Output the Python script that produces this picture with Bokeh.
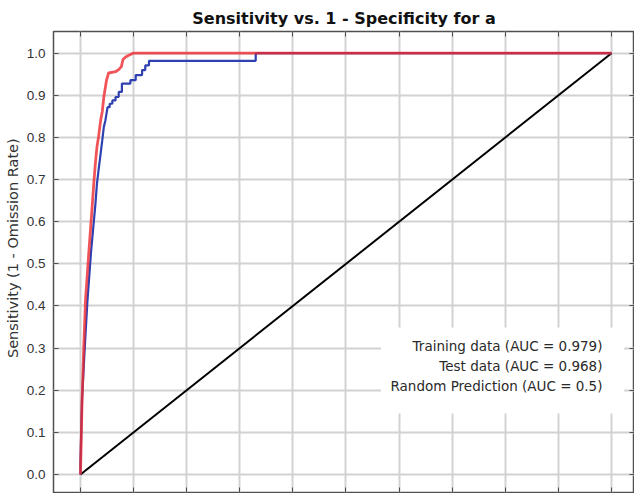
from bokeh.plotting import figure
from bokeh.models import (LinearAxis, FixedTicker, Range1d, Label, BoxAnnotation,
                          PrintfTickFormatter, ColumnDataSource, CustomJSTickFormatter)
from bokeh.embed import file_html
from bokeh.resources import INLINE

title_text = "Sensitivity vs. 1 - Specificity for a"
y_title = "Sensitivity  (1 - Omission Rate)"
tick_values = [0.0, 0.1, 0.2, 0.3, 0.4, 0.5, 0.6, 0.7, 0.8, 0.9, 1.0]

train_fpr = [0.0, 0.003, 0.006, 0.0094, 0.016, 0.022, 0.025, 0.028, 0.031, 0.034, 0.038,
             0.041, 0.044, 0.049, 0.053, 0.066, 0.072, 0.077, 0.080, 0.085, 0.091, 0.099, 1.0]
train_tpr = [0.0, 0.176, 0.295, 0.413, 0.532, 0.635, 0.690, 0.738, 0.777, 0.801, 0.841,
             0.861, 0.896, 0.936, 0.953, 0.956, 0.961, 0.968, 0.985, 0.991, 0.995, 1.0, 1.0]

test_fpr = [0.0, 0.0, 0.003, 0.008, 0.013, 0.020, 0.028, 0.031, 0.034, 0.038, 0.041, 0.044,
            0.047, 0.051, 0.055, 0.055, 0.060, 0.060, 0.066, 0.066, 0.072, 0.072, 0.078,
            0.078, 0.094, 0.094, 0.104, 0.104, 0.116, 0.116, 0.122, 0.122, 0.129, 0.129,
            0.330, 0.330, 1.0]
test_tpr = [0.0, 0.03, 0.18, 0.30, 0.41, 0.53, 0.64, 0.690, 0.722, 0.762, 0.793, 0.825,
            0.841, 0.872, 0.872, 0.880, 0.880, 0.888, 0.888, 0.896, 0.896, 0.908, 0.908,
            0.928, 0.928, 0.936, 0.936, 0.948, 0.948, 0.960, 0.960, 0.971, 0.971, 0.982,
            0.982, 1.0, 1.0]

random_fpr = [0.0, 1.0]
random_tpr = [0.0, 1.0]

legend_labels = ["Training data (AUC = 0.979)", "Test data (AUC = 0.968)",
                 "Random Prediction (AUC = 0.5)"]
legend_colors = ["#ee2a30", "#2f40b0", "#000000"]

FONT = "Liberation Sans"
FONT2 = "DejaVu Sans"

p = figure(width=634, height=493, output_backend="svg", toolbar_location=None,
           x_range=Range1d(-0.0508, 1.0433), y_range=Range1d(-0.0427, 1.0515),
           min_border_left=53, min_border_right=0, min_border_top=31, min_border_bottom=1,
           x_axis_location=None, y_axis_location=None)

p.title.text = title_text
p.title.text_font = FONT2
p.title.text_font_size = "16px"
p.title.text_font_style = "bold"
p.title.text_color = "#111111"
p.title.align = "center"
p.title.standoff = 7

p.outline_line_color = "#505050"
p.outline_line_width = 1.5
p.background_fill_color = "white"
p.border_fill_color = "white"

ticker = FixedTicker(ticks=tick_values)

yl = LinearAxis(ticker=ticker, formatter=PrintfTickFormatter(format="%.1f"))
# leading non-breaking spaces shift the rotated title upward, as in the original
yl.axis_label = "\u00a0" * 7 + y_title
yl.axis_label_text_font = FONT2
yl.axis_label_text_font_size = "14.5px"
yl.axis_label_text_font_style = "normal"
yl.axis_label_text_color = "#333333"
yl.axis_label_standoff = 3
yl.major_label_text_font = FONT
yl.major_label_text_font_size = "13.5px"
yl.major_label_text_color = "#333333"
yl.major_label_standoff = 8
yl.major_tick_in = 5
yl.major_tick_out = 0
yl.minor_tick_line_color = None
yl.axis_line_color = None
yl.major_tick_line_color = "#505050"
p.add_layout(yl, "left")

blank = CustomJSTickFormatter(code="return ''")
for loc in ("above", "below", "right"):
    ax = LinearAxis(ticker=ticker, formatter=blank)
    ax.major_label_standoff = 0
    ax.major_tick_in = 5
    ax.major_tick_out = 0
    ax.minor_tick_line_color = None
    ax.axis_line_color = None
    ax.major_tick_line_color = "#505050"
    p.add_layout(ax, loc)

p.xgrid.ticker = ticker
p.ygrid.ticker = ticker
p.grid.grid_line_color = "#d2d2d2"
p.grid.grid_line_width = 2

p.line(random_fpr, random_tpr, line_color="#000000", line_width=2)
p.line(test_fpr, test_tpr, line_color="#2f40b0", line_width=2.2)
p.line(train_fpr, train_tpr, line_color="#ee2a30", line_width=2.8, line_alpha=0.8)

# legend panel (drawn manually: text right-aligned, swatch on right)
p.add_layout(BoxAnnotation(left=0.566, right=1.024, bottom=0.145, top=0.349,
                           fill_color="white", fill_alpha=1.0, line_color=None))
row_y = [0.306 - i * 0.0475 for i in range(len(legend_labels))]
for lab, yy in zip(legend_labels, row_y):
    p.add_layout(Label(x=0.983, y=yy, text=lab, text_align="right", text_baseline="middle",
                       text_font=FONT2, text_font_size="13.5px", text_color="#2a2a2a"))
src = ColumnDataSource(dict(x=[1.006] * len(legend_labels), y=row_y, c=legend_colors))
p.scatter("x", "y", source=src, marker="square", size=7, fill_color="c", line_color="c")

open("out.html", "w").write(file_html(p, INLINE))
